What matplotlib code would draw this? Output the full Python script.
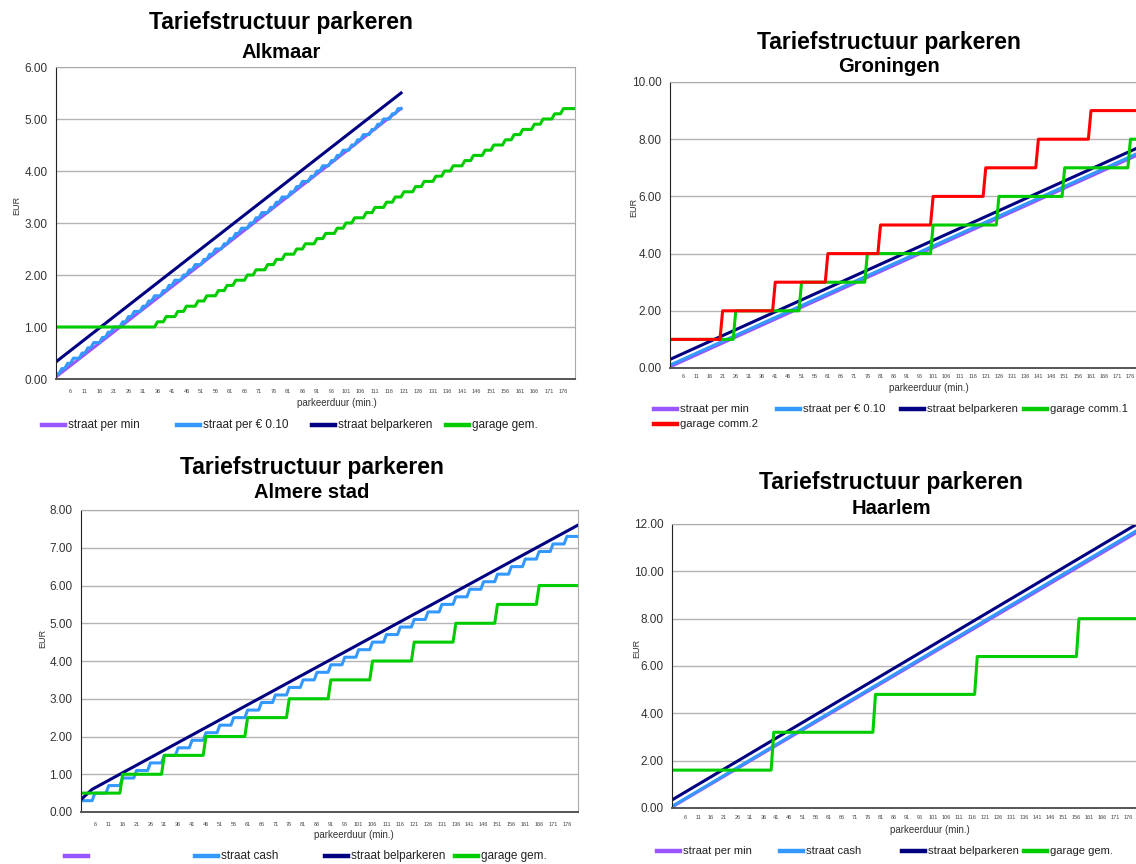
import numpy as np
import matplotlib
matplotlib.use('Agg')
import matplotlib.pyplot as plt
from matplotlib.lines import Line2D

plt.rcParams['font.family'] = ['Liberation Sans', 'DejaVu Sans']

W, H = 1136, 864

# kleuren van de reeksen
c_min = '#9955ff'
c_blue = '#3399ff'
c_bel = '#000080'
c_green = '#00cc00'
c_red = '#ff0000'

x_ticks = list(range(6, 180, 5))

# ---- Alkmaar ----
alk_lin_x = [1, 120]
alk_per_min = [0.04, 5.20]
alk_bel = [0.33, 5.50]
alk_010_start = [1, 3, 5, 7, 10, 12, 14, 17, 19, 21, 24, 26, 28, 31, 33, 35, 38, 40,
                 42, 45, 47, 49, 52, 54, 56, 59, 61, 63, 65, 68, 70, 72, 75, 77, 79,
                 82, 84, 86, 89, 91, 93, 96, 98, 100, 103, 105, 107, 110, 112, 114, 117, 119]
alk_010_level = [0.1, 0.2, 0.3, 0.4, 0.5, 0.6, 0.7, 0.8, 0.9, 1.0, 1.1, 1.2, 1.3, 1.4,
                 1.5, 1.6, 1.7, 1.8, 1.9, 2.0, 2.1, 2.2, 2.3, 2.4, 2.5, 2.6, 2.7, 2.8,
                 2.9, 3.0, 3.1, 3.2, 3.3, 3.4, 3.5, 3.6, 3.7, 3.8, 3.9, 4.0, 4.1, 4.2,
                 4.3, 4.4, 4.5, 4.6, 4.7, 4.8, 4.9, 5.0, 5.1, 5.2]
alk_gar_start = [1, 36, 39, 43, 46, 50, 53, 57, 60, 63, 67, 70, 74, 77, 80, 84, 87, 91,
                 94, 98, 101, 104, 108, 111, 115, 118, 121, 125, 128, 132, 135, 138,
                 142, 145, 149, 152, 156, 159, 162, 166, 169, 173, 176]
alk_gar_level = [1.0, 1.1, 1.2, 1.3, 1.4, 1.5, 1.6, 1.7, 1.8, 1.9, 2.0, 2.1, 2.2, 2.3,
                 2.4, 2.5, 2.6, 2.7, 2.8, 2.9, 3.0, 3.1, 3.2, 3.3, 3.4, 3.5, 3.6, 3.7,
                 3.8, 3.9, 4.0, 4.1, 4.2, 4.3, 4.4, 4.5, 4.6, 4.7, 4.8, 4.9, 5.0, 5.1, 5.2]

# ---- Groningen ----
gro_lin_x = [1, 180]
gro_per_min = [0.04, 7.50]
gro_010 = [0.10, 7.56]
gro_bel = [0.30, 7.75]
gro_c1_start = [1, 26, 51, 76, 101, 126, 151, 176]
gro_c1_level = [1, 2, 3, 4, 5, 6, 7, 8]
gro_c2_start = [1, 21, 41, 61, 81, 101, 121, 141, 161]
gro_c2_level = [1, 2, 3, 4, 5, 6, 7, 8, 9]

# ---- Almere stad ----
alm_bel_x = [1, 5, 180]
alm_bel = [0.33, 0.60, 7.60]
alm_cash_start = [1, 6, 11, 16, 21, 26, 31, 36, 41, 46, 51, 56, 61, 66, 71, 76, 81, 86,
                  91, 96, 101, 106, 111, 116, 121, 126, 131, 136, 141, 146, 151, 156,
                  161, 166, 171, 176]
alm_cash_level = [0.3, 0.5, 0.7, 0.9, 1.1, 1.3, 1.5, 1.7, 1.9, 2.1, 2.3, 2.5, 2.7, 2.9,
                  3.1, 3.3, 3.5, 3.7, 3.9, 4.1, 4.3, 4.5, 4.7, 4.9, 5.1, 5.3, 5.5, 5.7,
                  5.9, 6.1, 6.3, 6.5, 6.7, 6.9, 7.1, 7.3]
alm_gar_start = [1, 16, 31, 46, 61, 76, 91, 106, 121, 136, 151, 166]
alm_gar_level = [0.5, 1.0, 1.5, 2.0, 2.5, 3.0, 3.5, 4.0, 4.5, 5.0, 5.5, 6.0]

# ---- Haarlem ----
haa_lin_x = [1, 180]
haa_per_min = [0.04, 11.70]
haa_cash = [0.07, 11.78]
haa_bel = [0.34, 12.05]
haa_gar_start = [1, 40, 79, 118, 157]
haa_gar_level = [1.6, 3.2, 4.8, 6.4, 8.0]


def trap(starts, levels, end):
    # een waarde per minuut, zoals in de Excel-grafiek
    minuten = np.arange(starts[0], end + 1)
    idx = np.searchsorted(starts, minuten, side='right') - 1
    return minuten, np.array(levels)[idx]


def px_axes(l, r, t, b):
    return fig.add_axes([l / W, 1 - b / H, (r - l) / W, (b - t) / H])


def opmaak(ax, ymax, ystep, xpad):
    ax.set_xlim(1, 180)
    ax.set_ylim(0, ymax)
    ax.set_yticks(np.arange(0, ymax + 0.01, ystep))
    ax.yaxis.set_major_formatter(matplotlib.ticker.FormatStrFormatter('%.2f'))
    ax.set_xticks(x_ticks)
    ax.set_xticklabels([str(v) for v in x_ticks], fontsize=4, color='#444444')
    ax.tick_params(axis='y', labelsize=8.5, colors='#333333', length=0, pad=6)
    ax.tick_params(axis='x', length=0, pad=xpad)
    ax.grid(axis='y', color='#b4b4b4', lw=1)
    ax.set_axisbelow(True)
    ax.spines['left'].set_color('#222222')
    ax.spines['bottom'].set_color('#555555')
    ax.spines['bottom'].set_linewidth(1.4)
    ax.spines['top'].set_color('#aaaaaa')
    ax.spines['right'].set_color('#aaaaaa')


def titels(cx, y1, y2, stad):
    fig.text(cx / W, 1 - y1 / H, 'Tariefstructuur parkeren', ha='center', va='center',
             fontsize=16.5, fontweight='bold', color='black')
    fig.text(cx / W, 1 - y2 / H, stad, ha='center', va='center',
             fontsize=14.5, fontweight='bold', color='black')


def labels(xl, yl):
    fig.text(xl[0] / W, 1 - xl[1] / H, 'parkeerduur (min.)', ha='center', va='center',
             fontsize=7, color='#333333')
    fig.text(yl[0] / W, 1 - yl[1] / H, 'EUR', ha='center', va='center', rotation=90,
             fontsize=6.5, color='#333333')


def legenda(y, items, fs=8.5):
    for xt, kleur, tekst in items:
        fig.add_artist(Line2D([(xt - 26) / W, (xt - 3) / W], [1 - y / H] * 2, color=kleur,
                              lw=3.2, transform=fig.transFigure))
        fig.text(xt / W, 1 - y / H, tekst, ha='left', va='center', fontsize=fs,
                 color='#222222')


fig = plt.figure(figsize=(W / 100, H / 100), dpi=100, facecolor='white')
lw = 2.2

# Alkmaar
ax1 = px_axes(56, 575, 67, 379)
ax1.plot(alk_lin_x, alk_per_min, color=c_min, lw=lw)
x, y = trap(alk_010_start, alk_010_level, 120)
ax1.plot(x, y, color=c_blue, lw=lw)
ax1.plot(alk_lin_x, alk_bel, color=c_bel, lw=lw)
x, y = trap(alk_gar_start, alk_gar_level, 180)
ax1.plot(x, y, color=c_green, lw=lw)
opmaak(ax1, 6, 1, 7)
titels(281, 22, 52, 'Alkmaar')
labels((337, 403), (17, 205))
legenda(425, [(68, c_min, 'straat per min'), (203, c_blue, 'straat per € 0.10'),
              (338, c_bel, 'straat belparkeren'), (472, c_green, 'garage gem.')])

# Groningen
ax2 = px_axes(670, 1141, 82, 368)
ax2.plot(gro_lin_x, gro_per_min, color=c_min, lw=lw)
ax2.plot(gro_lin_x, gro_010, color=c_blue, lw=lw)
ax2.plot(gro_lin_x, gro_bel, color=c_bel, lw=lw)
x, y = trap(gro_c1_start, gro_c1_level, 180)
ax2.plot(x, y, color=c_green, lw=lw)
x, y = trap(gro_c2_start, gro_c2_level, 180)
ax2.plot(x, y, color=c_red, lw=lw)
opmaak(ax2, 10, 2, 4)
titels(889, 42, 67, 'Groningen')
labels((929, 388), (634, 207))
legenda(409, [(680, c_min, 'straat per min'), (803, c_blue, 'straat per € 0.10'),
              (927, c_bel, 'straat belparkeren'), (1050, c_green, 'garage comm.1')], 8.1)
legenda(424, [(680, c_red, 'garage comm.2')], 8.1)

# Almere stad
ax3 = px_axes(81, 578, 510, 812)
x, y = trap(alm_cash_start, alm_cash_level, 180)
ax3.plot(x, y, color=c_blue, lw=lw)
ax3.plot(alm_bel_x, alm_bel, color=c_bel, lw=lw)
x, y = trap(alm_gar_start, alm_gar_level, 180)
ax3.plot(x, y, color=c_green, lw=lw)
opmaak(ax3, 8, 1, 7)
titels(312, 467, 493, 'Almere stad')
labels((354, 835), (43, 638))
legenda(856, [(91, c_min, ''), (221, c_blue, 'straat cash'),
              (351, c_bel, 'straat belparkeren'), (481, c_green, 'garage gem.')])

# Haarlem
ax4 = px_axes(672, 1139, 524, 808)
ax4.plot(haa_lin_x, haa_per_min, color=c_min, lw=lw)
ax4.plot(haa_lin_x, haa_cash, color=c_blue, lw=lw)
ax4.plot(haa_lin_x, haa_bel, color=c_bel, lw=lw)
x, y = trap(haa_gar_start, haa_gar_level, 180)
ax4.plot(x, y, color=c_green, lw=lw)
opmaak(ax4, 12, 2, 5)
titels(891, 483, 508, 'Haarlem')
labels((930, 830), (637, 648))
legenda(851, [(683, c_min, 'straat per min'), (806, c_blue, 'straat cash'),
              (928, c_bel, 'straat belparkeren'), (1050, c_green, 'garage gem.')], 8.1)

fig.savefig('out.png', dpi=100, facecolor='white')
